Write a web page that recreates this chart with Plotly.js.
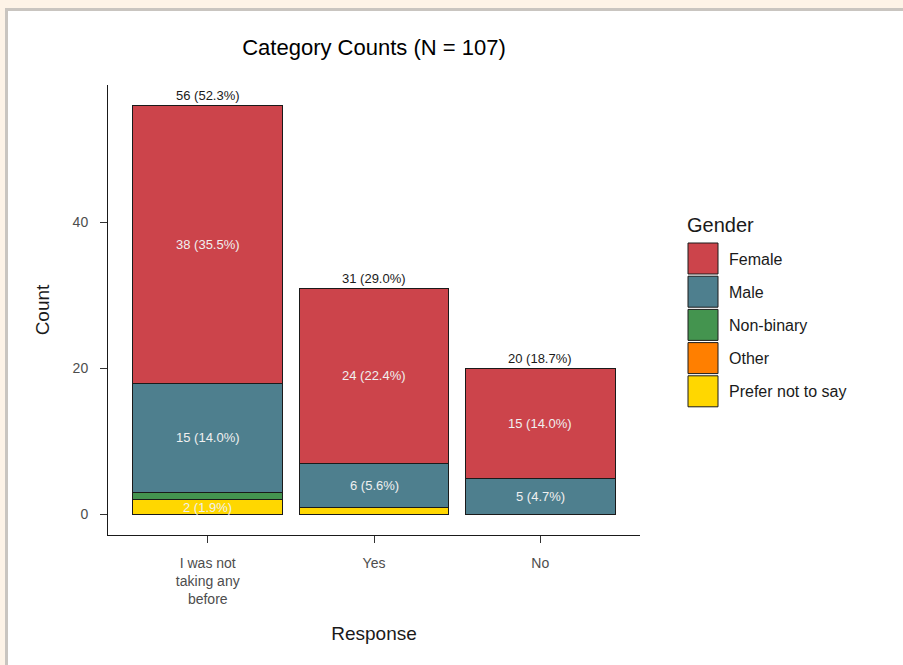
<!DOCTYPE html>
<html>
<head>
<meta charset="utf-8">
<script src="https://cdn.plot.ly/plotly-3.0.1.min.js"></script>
<style>
html,body{margin:0;padding:0;background:#fdf3e7;width:903px;height:665px;overflow:hidden;}
#frame{position:absolute;left:5px;top:8px;border-left:3px solid #c9c5c0;border-top:3px solid #c9c5c0;background:#fff;width:895px;height:654px;}
#chart{width:895px;height:654px;}
</style>
</head>
<body>
<div id="frame"><div id="chart"></div></div>
<script>
const categories = ["I was not taking any before", "Yes", "No"];
const tickLabels = ["I was not<br>taking any<br>before", "Yes", "No"];
const genders = ["Female", "Male", "Non-binary", "Other", "Prefer not to say"];
const female = [38, 24, 15];
const male = [15, 6, 5];
const nonBinary = [1, 0, 0];
const other = [0, 0, 0];
const preferNot = [2, 1, 0];
const colors = ["#cc444b", "#4e7f8e", "#44944f", "#ff7f00", "#ffd700"];

const FONT = "Liberation Sans, Arial, sans-serif";
const seriesByGender = {"Female": female, "Male": male, "Non-binary": nonBinary, "Other": other, "Prefer not to say": preferNot};
const stackOrder = ["Prefer not to say", "Other", "Non-binary", "Male", "Female"];
const N = categories.reduce((s, c, i) => s + genders.reduce((a, g) => a + seriesByGender[g][i], 0), 0);

const traces = stackOrder.map(g => ({
  type: "bar",
  name: g,
  x: categories,
  y: seriesByGender[g],
  width: 0.9,
  marker: {color: colors[genders.indexOf(g)], line: {color: "#1a1a1a", width: 1}},
  showlegend: false,
  hoverinfo: "skip"
}));

const annotations = [];
categories.forEach((c, i) => {
  let cum = 0;
  stackOrder.forEach(g => {
    const v = seriesByGender[g][i];
    if (v >= 2) {
      annotations.push({x: c, y: cum + v / 2, xref: "x", yref: "y", showarrow: false,
        text: v + " (" + (100 * v / N).toFixed(1) + "%)",
        font: {family: FONT, size: 13, color: "#f0f0f0"}});
    }
    cum += v;
  });
  annotations.push({x: c, y: cum, xref: "x", yref: "y", showarrow: false, yanchor: "bottom", yshift: 0,
    text: cum + " (" + (100 * cum / N).toFixed(1) + "%)",
    font: {family: FONT, size: 13, color: "#1a1a1a"}});
});

// custom legend (pixel positions converted to paper coords)
const M = {l: 100, r: 263, t: 74, b: 130};
const W = 895 - M.l - M.r, H = 654 - M.t - M.b;
const px = x => (x - M.l) / W;
const py = y => 1 - (y - M.t) / H;
const shapes = [];
annotations.push({xref: "paper", yref: "paper", x: px(677), y: py(214), xanchor: "left", yanchor: "middle",
  showarrow: false, text: "Gender", font: {family: FONT, size: 20, color: "#1a1a1a"}});
genders.forEach((g, k) => {
  const top = 232 + k * 33.2;
  shapes.push({type: "rect", xref: "paper", yref: "paper", x0: px(680), x1: px(710), y0: py(top), y1: py(top + 31),
    fillcolor: colors[k], line: {color: "#1a1a1a", width: 1}});
  annotations.push({xref: "paper", yref: "paper", x: px(719), y: py(top + 16), xanchor: "left", yanchor: "middle",
    showarrow: false, text: g, font: {family: FONT, size: 16, color: "#1a1a1a"}});
});

const layout = {
  width: 895, height: 654,
  margin: M,
  paper_bgcolor: "#ffffff", plot_bgcolor: "#ffffff",
  barmode: "stack",
  bargap: 0.1,
  title: {text: "Category Counts (N = " + N + ")", x: 0.5, xref: "paper", y: 1 - 36 / 654, yanchor: "middle",
    font: {family: FONT, size: 22, color: "#000"}},
  xaxis: {
    type: "category", range: [-0.6, 2.6], tickvals: categories, ticktext: tickLabels,
    showline: true, linecolor: "#1a1a1a", linewidth: 1, showgrid: false, zeroline: false,
    ticks: "outside", ticklen: 7, tickcolor: "#333", ticklabelstandoff: 8,
    tickfont: {family: FONT, size: 14, color: "#4d4d4d"},
    title: {text: "Response", standoff: 20, font: {family: FONT, size: 19, color: "#1a1a1a"}},
    fixedrange: true
  },
  yaxis: {
    range: [-2.8, 58.8], tickvals: [0, 20, 40],
    showline: true, linecolor: "#1a1a1a", linewidth: 1, showgrid: false, zeroline: false,
    ticks: "outside", ticklen: 7, tickcolor: "#333", ticklabelstandoff: 9,
    tickfont: {family: FONT, size: 14, color: "#4d4d4d"},
    title: {text: "Count", standoff: 17, font: {family: FONT, size: 19, color: "#1a1a1a"}},
    fixedrange: true
  },
  annotations: annotations,
  shapes: shapes
};

Plotly.newPlot("chart", traces, layout, {displayModeBar: false, staticPlot: true});
</script>
</body>
</html>
